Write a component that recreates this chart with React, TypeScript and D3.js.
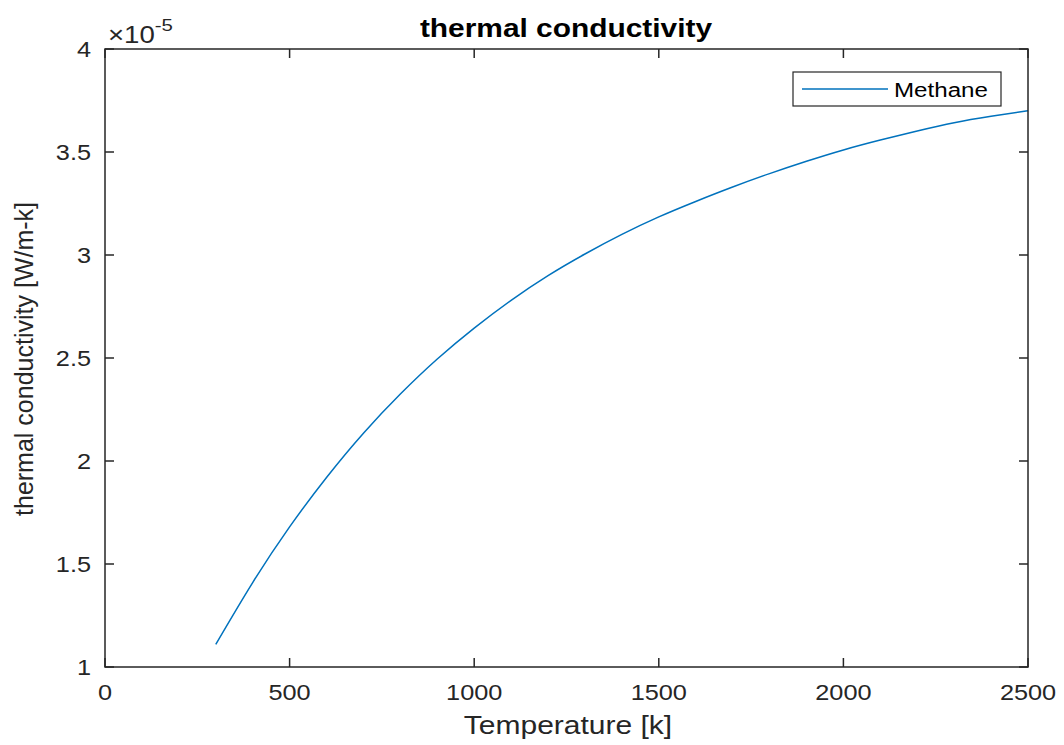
import React from "react";
import * as d3 from "d3";

const temperatures = [300, 400, 500, 600, 700, 800, 900, 1000, 1100, 1200, 1300, 1400, 1500, 1600, 1700, 1800, 1900, 2000, 2100, 2200, 2300, 2400, 2500];
const conductivity = [1.11, 1.41, 1.68, 1.92, 2.135, 2.325, 2.495, 2.645, 2.78, 2.90, 3.005, 3.10, 3.185, 3.26, 3.33, 3.395, 3.455, 3.51, 3.558, 3.602, 3.642, 3.673, 3.70];
const xTicks = [0, 500, 1000, 1500, 2000, 2500];
const yTicks = [1, 1.5, 2, 2.5, 3, 3.5, 4];
const seriesName = "Methane";
const titleText = "thermal conductivity";
const xLabel = "Temperature [k]";
const yLabel = "thermal conductivity [W/m-k]";

const W = 1064, H = 745;
const L = 105, R = 1028, T = 49, B = 667;
const ink = "#262626";
const lineColor = "#0072BD";
const font = "'Liberation Sans', Arial, Helvetica, sans-serif";
const SX = 1.15;

export default function App() {
  const x = d3.scaleLinear().domain([0, 2500]).range([L, R]);
  const y = d3.scaleLinear().domain([1, 4]).range([B, T]);
  const data = temperatures.map((t, i) => [t, conductivity[i]] as [number, number]);
  const line = d3.line<[number, number]>().x(d => x(d[0])).y(d => y(d[1])).curve(d3.curveNatural);
  const tl = 9;
  return (
    <svg width={W} height={H} style={{ position: "absolute", left: 0, top: 0, background: "#fff" }} fontFamily={font}>
      <rect x={0} y={0} width={W} height={H} fill="#fff" />
      <path d={line(data) || ""} fill="none" stroke={lineColor} strokeWidth={1.5} />
      <rect x={L} y={T} width={R - L} height={B - T} fill="none" stroke={ink} strokeWidth={1.5} />
      {xTicks.map(v => (
        <g key={"x" + v}>
          <line x1={x(v)} x2={x(v)} y1={B} y2={B - tl} stroke={ink} strokeWidth={1.5} />
          <line x1={x(v)} x2={x(v)} y1={T} y2={T + tl} stroke={ink} strokeWidth={1.5} />
          <text transform={`translate(${x(v)},${700}) scale(${SX},1)`} textAnchor="middle" fontSize={22} fill={ink}>{v}</text>
        </g>
      ))}
      {yTicks.map(v => (
        <g key={"y" + v}>
          <line x1={L} x2={L + tl} y1={y(v)} y2={y(v)} stroke={ink} strokeWidth={1.5} />
          <line x1={R} x2={R - tl} y1={y(v)} y2={y(v)} stroke={ink} strokeWidth={1.5} />
          <text transform={`translate(${91},${y(v) + 8}) scale(${SX},1)`} textAnchor="end" fontSize={22} fill={ink}>{v}</text>
        </g>
      ))}
      <text transform={`translate(108,43) scale(1.2,1)`} fontSize={23} fill={ink}>
        <tspan>×10</tspan>
        <tspan fontSize={17} dy={-12}>-5</tspan>
      </text>
      <text transform={`translate(566,37) scale(${SX},1)`} textAnchor="middle" fontSize={26} fontWeight="bold" fill="#000">{titleText}</text>
      <text transform={`translate(568,734) scale(1.2,1)`} textAnchor="middle" fontSize={25} fill={ink}>{xLabel}</text>
      <text transform={`translate(33,359) rotate(-90)`} textAnchor="middle" fontSize={25} fill={ink}>{yLabel}</text>
      <rect x={793} y={72} width={208} height={34} fill="#fff" stroke={ink} strokeWidth={1.2} />
      <line x1={802} x2={888} y1={89} y2={89} stroke={lineColor} strokeWidth={1.6} />
      <text transform={`translate(894,97) scale(${SX},1)`} fontSize={21} fill="#000">{seriesName}</text>
    </svg>
  );
}
